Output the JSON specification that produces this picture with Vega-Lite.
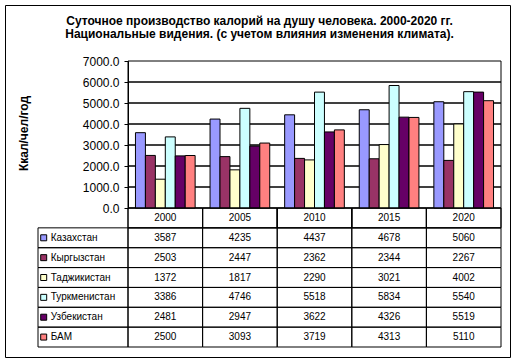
{
  "$schema": "https://vega.github.io/schema/vega-lite/v6.json",
  "width": 505,
  "height": 352,
  "autosize": "none",
  "padding": {"left": 5, "top": 5, "right": 7, "bottom": 6},
  "background": "white",
  "config": {"font": "Liberation Sans", "view": {"stroke": "black", "strokeWidth": 1}},
  "title": {
    "text": ["Суточное производство калорий на душу человека. 2000-2020 гг.", "Национальные видения. (с учетом влияния изменения климата)."],
    "fontSize": 12, "fontWeight": "bold", "font": "Liberation Sans", "color": "black",
    "anchor": "middle", "offset": -36, "lineHeight": 13, "dx": 2
  },
  "datasets": {
    "vals": [
      {"country": "Казахстан", "year": 2000, "value": 3587},
      {"country": "Казахстан", "year": 2005, "value": 4235},
      {"country": "Казахстан", "year": 2010, "value": 4437},
      {"country": "Казахстан", "year": 2015, "value": 4678},
      {"country": "Казахстан", "year": 2020, "value": 5060},
      {"country": "Кыргызстан", "year": 2000, "value": 2503},
      {"country": "Кыргызстан", "year": 2005, "value": 2447},
      {"country": "Кыргызстан", "year": 2010, "value": 2362},
      {"country": "Кыргызстан", "year": 2015, "value": 2344},
      {"country": "Кыргызстан", "year": 2020, "value": 2267},
      {"country": "Таджикистан", "year": 2000, "value": 1372},
      {"country": "Таджикистан", "year": 2005, "value": 1817},
      {"country": "Таджикистан", "year": 2010, "value": 2290},
      {"country": "Таджикистан", "year": 2015, "value": 3021},
      {"country": "Таджикистан", "year": 2020, "value": 4002},
      {"country": "Туркменистан", "year": 2000, "value": 3386},
      {"country": "Туркменистан", "year": 2005, "value": 4746},
      {"country": "Туркменистан", "year": 2010, "value": 5518},
      {"country": "Туркменистан", "year": 2015, "value": 5834},
      {"country": "Туркменистан", "year": 2020, "value": 5540},
      {"country": "Узбекистан", "year": 2000, "value": 2481},
      {"country": "Узбекистан", "year": 2005, "value": 2947},
      {"country": "Узбекистан", "year": 2010, "value": 3622},
      {"country": "Узбекистан", "year": 2015, "value": 4326},
      {"country": "Узбекистан", "year": 2020, "value": 5519},
      {"country": "БАМ", "year": 2000, "value": 2500},
      {"country": "БАМ", "year": 2005, "value": 3093},
      {"country": "БАМ", "year": 2010, "value": 3719},
      {"country": "БАМ", "year": 2015, "value": 4313},
      {"country": "БАМ", "year": 2020, "value": 5110}
    ],
    "years": [{"year": 2000}, {"year": 2005}, {"year": 2010}, {"year": 2015}, {"year": 2020}],
    "levels": [{"level": 7000}, {"level": 6000}, {"level": 5000}, {"level": 4000}, {"level": 3000}, {"level": 2000}, {"level": 1000}],
    "countries": [
      {"country": "Казахстан"}, {"country": "Кыргызстан"}, {"country": "Таджикистан"},
      {"country": "Туркменистан"}, {"country": "Узбекистан"}, {"country": "БАМ"}
    ]
  },
  "layer": [
    {
      "data": {"name": "years"},
      "mark": {"type": "rect", "fill": "white", "fillOpacity": 0, "stroke": "black", "strokeWidth": 1},
      "encoding": {
        "x": {"field": "year", "type": "ordinal", "scale": {"domain": [2000, 2005, 2010, 2015, 2020], "range": [123, 496], "paddingInner": 0, "paddingOuter": 0}, "axis": null},
        "y": {
          "datum": "hdr", "type": "nominal",
          "scale": {"domain": ["hdr", "Казахстан", "Кыргызстан", "Таджикистан", "Туркменистан", "Узбекистан", "БАМ"], "range": [203, 342], "paddingInner": 0, "paddingOuter": 0},
          "axis": null
        }
      }
    },
    {
      "data": {"name": "levels"},
      "mark": {"type": "rect", "fill": "white", "fillOpacity": 0, "stroke": "black", "strokeWidth": 1},
      "encoding": {
        "x": {"datum": 1, "type": "quantitative", "scale": {"domain": [1, 2], "range": [123, 496], "nice": false, "zero": false}, "axis": null},
        "x2": {"datum": 2},
        "y": {
          "field": "level", "type": "ordinal",
          "scale": {"domain": [7000, 6000, 5000, 4000, 3000, 2000, 1000], "range": [56, 203], "paddingInner": 0, "paddingOuter": 0},
          "axis": null
        }
      }
    },
    {
      "data": {"name": "vals"},
      "mark": {"type": "bar", "stroke": "black", "strokeWidth": 1},
      "encoding": {
        "x": {
          "field": "year", "type": "ordinal",
          "scale": {"domain": [2000, 2005, 2010, 2015, 2020], "range": [123, 496], "paddingInner": 0, "paddingOuter": 0},
          "axis": null
        },
        "xOffset": {
          "field": "country", "type": "nominal",
          "scale": {"domain": ["Казахстан", "Кыргызстан", "Таджикистан", "Туркменистан", "Узбекистан", "БАМ"], "paddingInner": 0, "paddingOuter": 0.75}
        },
        "y": {
          "field": "value", "type": "quantitative",
          "scale": {"domain": [0, 7000], "range": [203, 56], "nice": false},
          "axis": {
            "orient": "left", "offset": -123, "values": [0, 1000, 2000, 3000, 4000, 5000, 6000, 7000],
            "format": ".1f", "grid": false,
            "tickSize": 4, "labelPadding": 5,
            "labelFontSize": 12, "labelColor": "black", "domainColor": "black", "tickColor": "black",
            "domainWidth": 1, "tickWidth": 1,
            "title": "Ккал/чел/год", "titleFontSize": 12, "titleFontWeight": "bold", "titleColor": "black",
            "titleX": -105, "titleY": 128, "titleAngle": 270, "titleBaseline": "middle", "titleAlign": "center"
          }
        },
        "color": {
          "field": "country", "type": "nominal",
          "scale": {
            "domain": ["Казахстан", "Кыргызстан", "Таджикистан", "Туркменистан", "Узбекистан", "БАМ"],
            "range": ["#9999FF", "#993366", "#FFFFCC", "#CCFFFF", "#660066", "#FF8080"]
          },
          "legend": null
        }
      }
    },
    {
      "data": {"name": "vals"},
      "mark": {"type": "rect", "fill": "white", "fillOpacity": 0, "stroke": "black", "strokeWidth": 1},
      "encoding": {
        "x": {"field": "year", "type": "ordinal", "scale": {"domain": [2000, 2005, 2010, 2015, 2020], "range": [123, 496], "paddingInner": 0, "paddingOuter": 0}, "axis": null},
        "y": {
          "field": "country", "type": "nominal",
          "scale": {"domain": ["hdr", "Казахстан", "Кыргызстан", "Таджикистан", "Туркменистан", "Узбекистан", "БАМ"], "range": [203, 342], "paddingInner": 0, "paddingOuter": 0},
          "axis": null
        }
      }
    },
    {
      "data": {"name": "vals"},
      "mark": {"type": "text", "fontSize": 10, "color": "black", "align": "center", "baseline": "middle"},
      "encoding": {
        "x": {"field": "year", "type": "ordinal", "scale": {"domain": [2000, 2005, 2010, 2015, 2020], "range": [123, 496], "paddingInner": 0, "paddingOuter": 0}, "axis": null},
        "y": {
          "field": "country", "type": "nominal",
          "scale": {"domain": ["hdr", "Казахстан", "Кыргызстан", "Таджикистан", "Туркменистан", "Узбекистан", "БАМ"], "range": [203, 342], "paddingInner": 0, "paddingOuter": 0},
          "axis": null
        },
        "text": {"field": "value", "type": "quantitative"}
      }
    },
    {
      "data": {"name": "years"},
      "mark": {"type": "rect", "fill": "white", "fillOpacity": 0, "stroke": "black", "strokeWidth": 1},
      "encoding": {
        "x": {"field": "year", "type": "ordinal", "scale": {"domain": [2000, 2005, 2010, 2015, 2020], "range": [123, 496], "paddingInner": 0, "paddingOuter": 0}, "axis": null},
        "y": {
          "datum": "hdr", "type": "nominal",
          "scale": {"domain": ["hdr", "Казахстан", "Кыргызстан", "Таджикистан", "Туркменистан", "Узбекистан", "БАМ"], "range": [203, 342], "paddingInner": 0, "paddingOuter": 0},
          "axis": null
        }
      }
    },
    {
      "data": {"name": "years"},
      "mark": {"type": "text", "fontSize": 10, "color": "black", "align": "center", "baseline": "middle"},
      "encoding": {
        "x": {"field": "year", "type": "ordinal", "scale": {"domain": [2000, 2005, 2010, 2015, 2020], "range": [123, 496], "paddingInner": 0, "paddingOuter": 0}, "axis": null},
        "y": {
          "datum": "hdr", "type": "nominal",
          "scale": {"domain": ["hdr", "Казахстан", "Кыргызстан", "Таджикистан", "Туркменистан", "Узбекистан", "БАМ"], "range": [203, 342], "paddingInner": 0, "paddingOuter": 0},
          "axis": null
        },
        "text": {"field": "year", "type": "nominal"}
      }
    },
    {
      "data": {"name": "countries"},
      "mark": {"type": "rect", "fill": "white", "fillOpacity": 0, "stroke": "black", "strokeWidth": 1},
      "encoding": {
        "x": {"datum": 1, "type": "quantitative", "scale": {"domain": [1, 91], "range": [33, 123], "nice": false, "zero": false}, "axis": null},
        "x2": {"datum": 91},
        "y": {
          "field": "country", "type": "nominal",
          "scale": {"domain": ["hdr", "Казахстан", "Кыргызстан", "Таджикистан", "Туркменистан", "Узбекистан", "БАМ"], "range": [203, 342], "paddingInner": 0, "paddingOuter": 0},
          "axis": null
        }
      }
    },
    {
      "data": {"name": "countries"},
      "mark": {"type": "point", "shape": "square", "filled": true, "size": 36, "stroke": "black", "strokeWidth": 1, "opacity": 1},
      "encoding": {
        "x": {"datum": 6.7, "type": "quantitative", "scale": {"domain": [1, 91], "range": [33, 123], "nice": false, "zero": false}, "axis": null},
        "y": {
          "field": "country", "type": "nominal",
          "scale": {"domain": ["hdr", "Казахстан", "Кыргызстан", "Таджикистан", "Туркменистан", "Узбекистан", "БАМ"], "range": [203, 342], "paddingInner": 0, "paddingOuter": 0},
          "axis": null
        },
        "color": {"field": "country", "type": "nominal", "legend": null}
      }
    },
    {
      "data": {"name": "countries"},
      "mark": {"type": "text", "fontSize": 10, "color": "black", "align": "left", "baseline": "middle"},
      "encoding": {
        "x": {"datum": 13.7, "type": "quantitative", "scale": {"domain": [1, 91], "range": [33, 123], "nice": false, "zero": false}, "axis": null},
        "y": {
          "field": "country", "type": "nominal",
          "scale": {"domain": ["hdr", "Казахстан", "Кыргызстан", "Таджикистан", "Туркменистан", "Узбекистан", "БАМ"], "range": [203, 342], "paddingInner": 0, "paddingOuter": 0},
          "axis": null
        },
        "text": {"field": "country", "type": "nominal"}
      }
    }
  ],
  "resolve": {"scale": {"x": "independent", "y": "independent"}}
}
